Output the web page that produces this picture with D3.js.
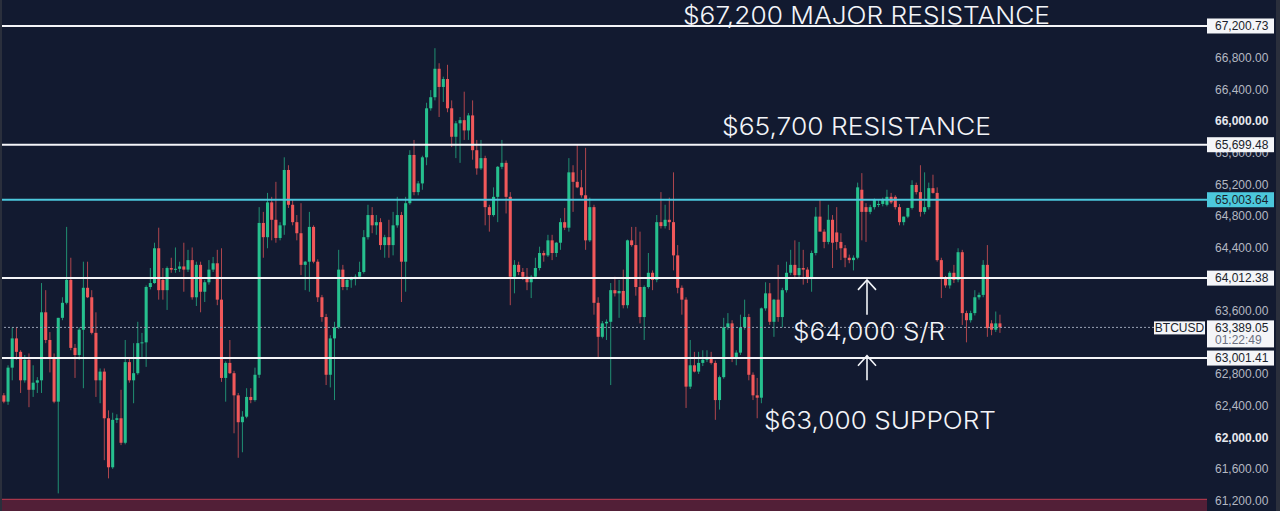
<!DOCTYPE html>
<html>
<head>
<meta charset="utf-8">
<script src="https://cdn.jsdelivr.net/npm/d3@7"></script>
<style>
  html, body { margin: 0; padding: 0; background: #121a30; overflow: hidden; }
  svg { display: block; }
  .tick text { font-family: 'Liberation Sans', Arial, sans-serif; font-size: 12px; }
  .note { font-family: Inter, 'Open Sans', sans-serif; font-weight: 300; fill: #f2f4f8; }
  .boxText { font-family: 'Liberation Sans', Arial, sans-serif; font-size: 12px; }
</style>
</head>
<body>
<script>
// BTCUSD candles, [open, high, low, close]
const ohlc = [
  [62530, 62560, 62430, 62450], [62450, 62910, 62410, 62880], [62880, 63390, 62720, 63250], [63250, 63390, 62980, 63080],
  [63080, 63100, 62560, 62720], [62720, 63040, 62690, 62980], [62980, 63060, 62380, 62600], [62600, 62910, 62510, 62690],
  [62690, 62760, 62560, 62720], [62720, 63950, 62560, 63580], [63580, 63860, 63190, 63230], [63230, 63330, 62820, 63010],
  [63010, 63060, 62430, 62450], [62450, 63510, 61290, 63510], [63510, 63770, 63480, 63700], [63700, 64660, 63680, 63990],
  [63990, 64270, 63100, 63130], [63130, 63180, 62750, 63040], [63040, 63390, 62980, 63360], [63360, 64220, 62620, 63890],
  [63890, 64220, 63760, 63770], [63770, 63860, 63300, 63320], [63320, 63580, 62510, 62720], [62720, 62870, 62430, 62830],
  [62830, 62870, 61710, 62240], [62240, 62340, 61480, 61620], [61620, 62310, 61600, 62220], [62220, 62290, 62180, 62240],
  [62240, 62600, 61900, 61930], [61930, 63230, 61910, 62950], [62950, 63000, 62690, 62720], [62720, 63190, 62430, 62810],
  [62810, 63460, 62790, 63190], [63190, 63320, 63010, 63200], [63200, 63920, 62890, 63900], [63900, 64140, 63870, 63950],
  [63950, 64460, 63940, 64390], [64390, 64650, 63740, 63860], [63990, 64140, 63740, 63860], [63860, 64160, 63610, 64140],
  [64140, 64270, 64080, 64120], [64120, 64400, 64080, 64130], [64130, 64220, 64090, 64160], [64160, 64460, 63840, 64120],
  [64120, 64370, 64090, 64240], [64240, 64400, 63740, 63770], [63770, 64220, 63660, 64180], [64180, 64220, 63580, 63840],
  [63840, 63990, 63710, 63960], [63960, 64240, 63930, 64120], [64120, 64280, 64090, 64200], [64200, 64370, 63670, 63740],
  [63740, 64390, 62700, 62750], [62750, 62960, 62450, 62940], [62940, 63230, 62800, 62810], [62810, 62840, 62050, 62530],
  [62530, 62560, 61740, 62190], [62190, 62330, 61810, 62260], [62260, 62620, 62240, 62510], [62510, 62620, 62430, 62470],
  [62470, 62880, 62450, 62790], [62790, 64910, 62750, 64710], [64710, 64850, 64270, 64530], [64530, 65090, 64390, 64970],
  [64970, 65040, 64490, 64750], [64750, 65230, 64460, 64520], [64520, 64720, 64490, 64680], [64680, 65540, 64560, 65380],
  [65380, 65440, 64900, 64940], [64940, 65000, 64680, 64720], [64720, 64810, 64490, 64580], [64580, 64960, 64050, 64180],
  [64180, 64230, 63860, 64220], [64220, 64850, 63840, 64660], [64660, 64680, 64200, 64220], [64220, 64250, 63710, 63770],
  [63770, 63800, 63460, 63520], [63520, 63560, 62660, 62790], [62790, 63290, 62630, 63250], [63250, 63460, 62470, 63390],
  [63390, 64370, 63370, 64120], [64120, 64180, 63860, 63900], [63900, 64000, 63860, 63990], [63990, 64030, 63890, 64000],
  [64000, 64060, 63920, 64030], [64030, 64220, 64010, 64090], [64090, 64620, 64070, 64530], [64530, 64940, 64500, 64810],
  [64810, 64910, 64580, 64680], [64680, 64810, 64560, 64720], [64720, 64770, 64370, 64430], [64430, 64560, 64270, 64530],
  [64530, 64750, 64270, 64430], [64430, 64850, 64300, 64680], [64680, 65040, 64650, 64810], [64810, 64850, 63710, 64220],
  [64220, 65040, 63840, 64960], [64960, 65630, 64940, 65570], [65570, 65760, 65060, 65100], [65100, 65240, 65060, 65210],
  [65210, 65560, 65130, 65540], [65540, 66230, 65440, 66160], [66160, 66390, 66130, 66300], [66300, 66920, 66260, 66660],
  [66660, 66730, 66050, 66430], [66430, 66560, 66240, 66530], [66530, 66710, 66110, 66160], [66160, 66260, 65670, 65800],
  [65800, 66000, 65530, 65970], [65970, 66050, 65470, 66010], [66010, 66370, 65760, 65880], [65880, 66100, 65760, 66070],
  [66070, 66260, 65510, 65630], [65630, 65760, 65320, 65400], [65400, 65760, 65380, 65530], [65530, 65560, 64680, 64910],
  [64910, 64940, 64600, 64810], [64810, 65160, 64790, 65040], [65040, 65430, 64720, 65420], [65420, 65760, 65390, 65470],
  [65470, 65500, 64830, 65040], [65040, 65100, 63670, 64030], [64030, 64240, 63820, 64180], [64180, 64220, 64050, 64090],
  [64090, 64140, 63990, 64030], [64030, 64140, 63860, 63960], [63960, 64050, 63760, 64030], [64030, 64270, 64000, 64140],
  [64140, 64410, 64110, 64330], [64330, 64360, 64220, 64300], [64300, 64560, 64280, 64490], [64490, 64560, 64240, 64330],
  [64330, 64470, 64280, 64460], [64460, 64770, 64370, 64720], [64720, 64900, 64620, 64650], [64650, 65530, 64600, 65350],
  [65350, 65440, 64850, 65230], [65230, 65700, 65150, 65160], [65160, 65380, 65030, 65060], [65060, 65660, 64370, 64490],
  [64490, 65030, 64470, 64910], [64910, 64940, 63550, 63700], [63700, 63770, 63000, 63270], [63270, 63470, 63250, 63440],
  [63440, 63490, 63230, 63460], [63460, 63950, 62660, 63860], [63860, 64030, 63780, 63820], [63820, 63990, 63510, 63850],
  [63850, 64120, 63630, 63670], [63670, 64500, 63630, 64490], [64490, 64660, 64410, 64430], [64430, 64660, 63790, 63900],
  [63900, 64600, 63440, 63520], [63520, 63920, 63230, 63900], [63900, 64330, 63880, 64080], [64080, 64110, 63860, 63990],
  [63990, 64810, 63960, 64720], [64720, 65100, 64640, 64670], [64670, 64940, 64640, 64750], [64750, 65030, 64620, 64720],
  [64720, 65350, 64110, 64300], [64300, 64430, 63820, 63890], [63890, 63920, 63550, 63740], [63740, 63770, 62370, 62640],
  [62640, 63230, 62610, 62910], [62910, 63080, 62820, 62830], [62830, 63080, 62800, 62940], [62940, 63100, 62900, 62980],
  [62980, 63100, 62950, 63000], [63000, 63080, 62920, 62940], [62940, 62970, 62220, 62470], [62470, 62780, 62350, 62760],
  [62760, 63510, 62740, 63390], [63390, 63570, 63360, 63440], [63440, 63480, 62950, 63000], [63000, 63100, 62910, 63070],
  [63070, 63550, 63040, 63390], [63390, 63740, 63360, 63520], [63520, 63560, 62720, 62790], [62790, 62820, 62470, 62530],
  [62530, 62750, 62240, 62500], [62500, 63640, 62430, 63630], [63630, 63960, 63600, 63820], [63820, 63950, 63420, 63460],
  [63460, 63750, 63270, 63740], [63740, 64180, 63460, 63520], [63520, 63890, 63390, 63860], [63860, 64220, 63830, 64080],
  [64080, 64370, 64050, 64180], [64180, 64490, 64020, 64050], [64050, 64470, 64000, 64140], [64140, 64370, 63930, 64120],
  [64120, 64150, 63950, 64010], [64010, 64360, 63840, 64330], [64330, 64910, 64300, 64790], [64790, 65000, 64760, 64600],
  [64600, 64630, 64390, 64470], [64470, 64940, 64440, 64750], [64750, 64810, 64140, 64460], [64590, 64910, 64370, 64470],
  [64470, 64580, 64240, 64390], [64390, 64430, 64150, 64270], [64270, 64310, 64200, 64240], [64240, 64300, 64110, 64270],
  [64270, 65220, 64250, 65160], [65130, 65340, 64490, 64850], [64910, 64960, 64470, 64850], [64850, 64940, 64820, 64910],
  [64910, 65020, 64880, 65000], [64940, 65000, 64910, 64950], [64950, 65030, 64920, 65000], [64940, 65130, 64920, 65040],
  [65040, 65090, 64950, 64970], [65040, 65060, 64880, 64910], [64910, 64950, 64680, 64720], [64720, 64790, 64680, 64790],
  [64790, 64900, 64770, 64900], [64900, 65250, 64880, 65190], [65190, 65220, 65070, 65100], [65100, 65440, 64790, 64850],
  [64850, 65350, 64820, 64910], [64910, 65220, 64880, 65150], [65150, 65320, 65080, 65090], [65090, 65160, 64220, 64240],
  [64240, 64270, 63760, 64010], [64010, 64040, 63890, 63920], [63920, 64100, 63880, 64080], [64080, 64180, 63950, 63990],
  [63990, 64390, 63960, 64340], [64340, 64370, 63420, 63570], [63570, 63600, 63200, 63480], [63480, 63600, 63450, 63570],
  [63570, 63860, 63540, 63770], [63770, 63830, 63740, 63800], [63800, 64240, 63770, 64180], [64180, 64430, 63270, 63380],
  [63440, 63480, 63290, 63360], [63360, 63590, 63330, 63440], [63440, 63550, 63320, 63389.05]
];

// only the grid labels that are not covered by a level box
const tickValues = [61200, 61600, 62000, 62400, 62800, 63600, 64400, 64800, 65200, 65600, 66000, 66400, 66800];
const whiteLevels = [67200.73, 65699.48, 64012.38, 63001.41];
const cyanLevel = 65003.64;
const lastPrice = 63389.05;
const countdown = '01:22:49';
const symbol = 'BTCUSD';
const zoneTop = 61215;
const notes = [
  { text: '$67,200 MAJOR RESISTANCE', x: 683, price: 67225, len: 367 },
  { text: '$65,700 RESISTANCE', x: 722, price: 65822, len: 269 },
  { text: '$64,000 S/R', x: 793, price: 63230, len: 152 },
  { text: '$63,000 SUPPORT', x: 764, price: 62105, len: 232 }
];
const arrows = [[63550, 63990], [62720, 63030]];

const width = 1280;
const height = 511;
const plotRight = 1207;
const up = '#26c08e';
const down = '#f1585a';

const svg = d3.select('body').append('svg')
  .attr('width', width)
  .attr('height', height);

svg.append('rect')
  .attr('width', width)
  .attr('height', height)
  .attr('fill', '#121a30');

const y = d3.scaleLinear()
  .domain([61200, 67200.73])
  .range([500.5, 26]);

const x = d3.scaleBand()
  .domain(d3.range(ohlc.length))
  .range([1.2, 1002.6])
  .padding(0.27);

// red zone at the bottom
svg.append('rect')
  .attr('x', 0)
  .attr('y', y(zoneTop))
  .attr('width', plotRight)
  .attr('height', height - y(zoneTop))
  .attr('fill', '#521f37');
svg.append('line')
  .attr('x1', 0).attr('x2', plotRight)
  .attr('y1', y(zoneTop)).attr('y2', y(zoneTop))
  .attr('stroke', '#a8364a')
  .attr('stroke-width', 1.2);

// right axis labels
const axis = svg.append('g')
  .attr('transform', `translate(1214, 0)`)
  .call(d3.axisRight(y).tickValues(tickValues).tickSize(0).tickPadding(1).tickFormat(d3.format(',.2f')));
axis.select('.domain').remove();
axis.selectAll('.tick text')
  .attr('fill', (d) => (d % 2000 === 0 ? '#e6e8ee' : '#b4b8c2'))
  .attr('font-weight', (d) => (d % 2000 === 0 ? 'bold' : 'normal'));

// candles
const candles = svg.append('g')
  .selectAll('g')
  .data(ohlc)
  .enter()
  .append('g');

candles.append('line')
  .attr('x1', (d, i) => x(i) + x.bandwidth() / 2)
  .attr('x2', (d, i) => x(i) + x.bandwidth() / 2)
  .attr('y1', (d) => y(d[1]))
  .attr('y2', (d) => y(d[2]))
  .attr('stroke', (d) => (d[3] >= d[0] ? up : down))
  .attr('stroke-opacity', 0.7)
  .attr('stroke-width', 1);

candles.append('rect')
  .attr('x', (d, i) => x(i))
  .attr('width', x.bandwidth())
  .attr('y', (d) => y(Math.max(d[0], d[3])))
  .attr('height', (d) => Math.max(1, Math.abs(y(d[0]) - y(d[3]))))
  .attr('fill', (d) => (d[3] >= d[0] ? up : down));

// level lines
svg.append('g')
  .selectAll('line')
  .data(whiteLevels)
  .enter()
  .append('line')
  .attr('x1', 0).attr('x2', plotRight)
  .attr('y1', (d) => y(d)).attr('y2', (d) => y(d))
  .attr('stroke', '#f4f5f8')
  .attr('stroke-width', 2);

svg.append('line')
  .attr('x1', 0).attr('x2', plotRight)
  .attr('y1', y(cyanLevel)).attr('y2', y(cyanLevel))
  .attr('stroke', '#4cc8dc')
  .attr('stroke-width', 2);

// current price line
svg.append('line')
  .attr('x1', 0).attr('x2', 1154)
  .attr('y1', y(lastPrice)).attr('y2', y(lastPrice))
  .attr('stroke', '#9aa3b5')
  .attr('stroke-width', 1)
  .attr('stroke-dasharray', '2,2');

// level labels
const fmt = d3.format(',.2f');
const boxes = svg.append('g')
  .selectAll('g')
  .data(whiteLevels.map((v) => ({ v, fill: '#f4f5f8' })).concat([{ v: cyanLevel, fill: '#4cc8dc' }]))
  .enter()
  .append('g');

boxes.append('rect')
  .attr('x', plotRight)
  .attr('y', (d) => y(d.v) - 7.5)
  .attr('width', 67)
  .attr('height', 15)
  .attr('fill', (d) => d.fill);

boxes.append('text')
  .attr('class', 'boxText')
  .attr('x', 1215)
  .attr('y', (d) => y(d.v) + 4.3)
  .attr('fill', '#1a1e2b')
  .text((d) => fmt(d.v));

// symbol and last price
const py = y(lastPrice);
svg.append('rect')
  .attr('x', 1154).attr('y', py - 6)
  .attr('width', 51).attr('height', 13)
  .attr('fill', '#f4f5f8');
svg.append('text')
  .attr('class', 'boxText')
  .attr('x', 1179.5).attr('y', py + 4.5)
  .attr('text-anchor', 'middle')
  .attr('fill', '#1a1e2b')
  .text(symbol);

svg.append('rect')
  .attr('x', plotRight).attr('y', py - 7)
  .attr('width', 67).attr('height', 27)
  .attr('fill', '#f4f5f8');
svg.append('text')
  .attr('class', 'boxText')
  .attr('x', 1215).attr('y', py + 4.5)
  .attr('fill', '#1a1e2b')
  .text(fmt(lastPrice));
svg.append('text')
  .attr('class', 'boxText')
  .attr('x', 1215).attr('y', py + 17)
  .attr('fill', '#6b7080')
  .text(countdown);

// edges
svg.append('rect').attr('x', 0).attr('y', 0).attr('width', 2).attr('height', height).attr('fill', '#2a2f3c');
svg.append('rect').attr('x', 1276).attr('y', 0).attr('width', 4).attr('height', height).attr('fill', '#2a2f3c');

// annotations
svg.append('g')
  .selectAll('text')
  .data(notes)
  .enter()
  .append('text')
  .attr('class', 'note')
  .attr('x', (d) => d.x)
  .attr('y', (d) => y(d.price))
  .attr('font-size', 24)
  .attr('textLength', (d) => d.len)
  .attr('lengthAdjust', 'spacingAndGlyphs')
  .text((d) => d.text);

const arrowG = svg.append('g')
  .attr('stroke', '#f2f4f8')
  .attr('stroke-width', 1.6)
  .attr('fill', 'none');

arrows.forEach(([lo, hi]) => {
  const ax = 867;
  arrowG.append('line')
    .attr('x1', ax).attr('x2', ax)
    .attr('y1', y(lo)).attr('y2', y(hi));
  arrowG.append('path')
    .attr('d', `M${ax - 9},${y(hi) + 10} L${ax},${y(hi)} L${ax + 9},${y(hi) + 10}`);
});
</script>
</body>
</html>
